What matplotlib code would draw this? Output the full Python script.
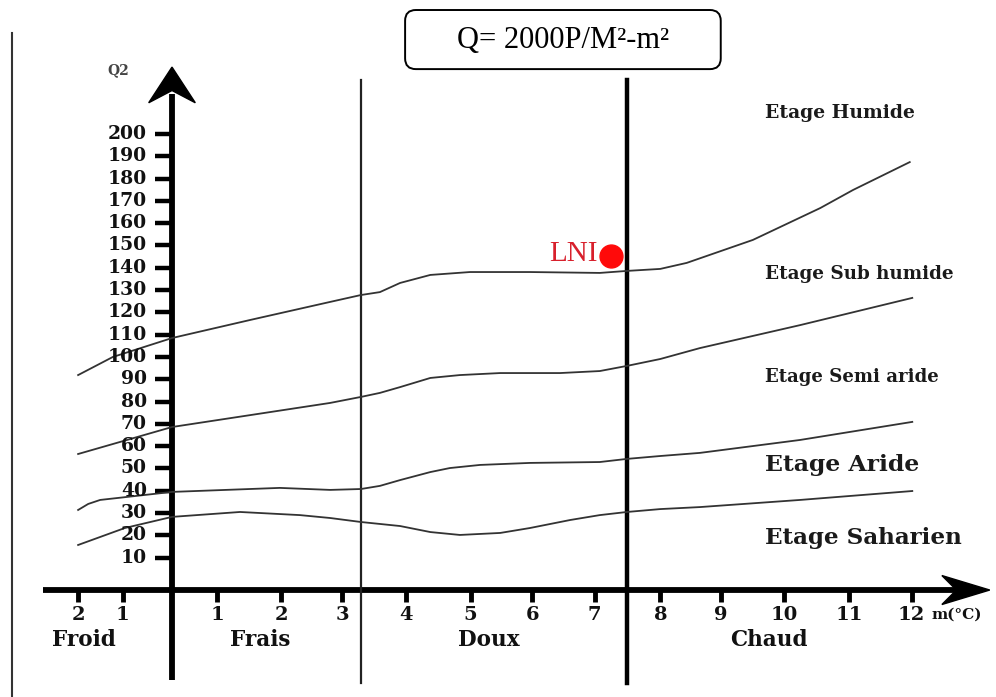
import numpy as np
import matplotlib
matplotlib.use("Agg")
import matplotlib.pyplot as plt
from matplotlib.patches import FancyBboxPatch, Polygon

# m (°C) positions of the tick marks as drawn (left ones are negative), and their labels
x_tick_pos = [-1.49, -0.78, 0.72, 1.73, 2.70, 3.72, 4.74, 5.72, 6.71, 7.75, 8.71, 9.72, 10.75, 11.74]
x_tick_lab = ["2", "1", "1", "2", "3", "4", "5", "6", "7", "8", "9", "10", "11", "12"]
y_ticks = list(range(10, 201, 10))

# boundaries between bioclimatic stages
c1_x = [-1.49, -0.94, 0.0, 1.24, 2.51, 3.0, 3.30, 3.62, 4.10, 4.73, 5.68, 6.79, 7.22, 7.75,
        8.17, 9.22, 10.29, 10.81, 11.71]
c1_y = [91.9, 100.0, 108.5, 116.6, 124.7, 127.8, 129.1, 133.2, 136.8, 138.1, 138.1, 137.7, 138.6,
        139.5, 142.2, 152.5, 166.8, 174.9, 187.4]
c2_x = [-1.49, 0.0, 2.51, 3.0, 3.30, 3.62, 4.10, 4.57, 5.21, 6.16, 6.79, 7.22, 7.75, 8.38, 9.97, 11.75]
c2_y = [56.5, 68.6, 79.4, 82.1, 83.9, 86.5, 90.6, 91.9, 92.8, 92.8, 93.7, 96.0, 99.1, 104.0, 114.3, 126.5]
c3_x = [-1.49, -1.33, -1.14, 0.0, 1.71, 2.51, 3.0, 3.30, 3.62, 4.10, 4.41, 4.89, 5.68, 6.79, 7.22,
        7.75, 8.38, 9.97, 11.75]
c3_y = [31.4, 34.1, 35.9, 39.5, 41.3, 40.4, 40.8, 42.2, 44.8, 48.4, 50.2, 51.6, 52.5, 52.9, 54.3,
        55.6, 57.0, 62.8, 70.9]
c4_x = [-1.49, -0.75, 0.0, 1.08, 2.03, 2.51, 3.0, 3.62, 4.10, 4.57, 5.21, 5.68, 6.32, 6.79, 7.22,
        7.75, 8.38, 9.97, 11.75]
c4_y = [15.7, 23.3, 28.3, 30.5, 29.1, 27.8, 26.0, 24.2, 21.5, 20.2, 21.1, 23.3, 26.9, 29.1, 30.5,
        31.8, 32.7, 35.9, 39.9]

stages = ["Etage Humide", "Etage Sub humide", "Etage Semi aride", "Etage Aride", "Etage Saharien"]
stage_y = [209.4, 137.2, 91.0, 51.6, 18.8]
stage_size = [13.5, 13.2, 13.1, 16.9, 16.6]
zones = ["Froid", "Frais", "Doux", "Chaud"]
zone_x = [-1.40, 1.40, 5.03, 9.48]
limits_x = [3.0, 7.22]   # Frais/Doux and Doux/Chaud separators

station = "LNI"
station_m, station_q2 = 6.97, 145.5

fig = plt.figure(figsize=(9.96, 6.97), dpi=100)
ax = fig.add_axes([0, 0, 1, 1])
ax.set_xlim(-2.730, 13.079)
ax.set_ylim(-52.47, 260.09)
ax.axis("off")

serif = "DejaVu Serif"
x_axis_y = -4.5

# left frame line
ax.plot([-2.54, -2.54], [245.3, -53], color="#333333", lw=1.5)

# Q2 axis with arrow
ax.plot([0, 0], [-44.8, 218], color="black", lw=4.2, solid_capstyle="butt")
ax.add_patch(Polygon([(0, 230), (0.37, 214), (0.0, 219.5), (-0.37, 214)],
                     closed=True, color="black"))
# m axis with arrow
ax.plot([-2.05, 12.5], [x_axis_y, x_axis_y], color="black", lw=4.2, solid_capstyle="butt")
ax.add_patch(Polygon([(12.98, x_axis_y), (12.22, x_axis_y + 6.5), (12.45, x_axis_y),
                      (12.22, x_axis_y - 6.5)], closed=True, color="black"))

# y ticks
ax.hlines(y_ticks, -0.27, 0, color="black", lw=3.2)
for v in y_ticks:
    ax.text(-0.40, v, str(v), ha="right", va="center", fontsize=13.5,
            fontweight="bold", family=serif, color="#111111")
ax.text(-0.86, 228.5, "Q2", ha="center", va="center", fontsize=10,
        fontweight="bold", family=serif, color="#444444")

# x ticks
ax.vlines(x_tick_pos, x_axis_y - 5.5, x_axis_y, color="black", lw=3.5)
for p, lab in zip(x_tick_pos, x_tick_lab):
    ax.text(p, -15.5, lab, ha="center", va="center", fontsize=14,
            fontweight="bold", family=serif, color="#111111")
ax.text(12.06, -15.5, "m(°C)", ha="left", va="center", fontsize=11,
        fontweight="bold", family=serif, color="#111111")
for z, zx in zip(zones, zone_x):
    ax.text(zx, -27.0, z, ha="center", va="center", fontsize=15.5,
            fontweight="bold", family=serif, color="#111111")

# separator lines
ax.plot([limits_x[0]] * 2, [224.2, -46.2], color="#222222", lw=1.6)
ax.plot([limits_x[1]] * 2, [224.2, -46.2], color="black", lw=3.2)

# stage boundaries
for cx, cy in [(c1_x, c1_y), (c2_x, c2_y), (c3_x, c3_y), (c4_x, c4_y)]:
    ax.plot(cx, cy, color="#333333", lw=1.3, solid_joinstyle="round")

for s, sy, fs in zip(stages, stage_y, stage_size):
    ax.text(9.41, sy, s, ha="left", va="center", fontsize=fs,
            fontweight="bold", family=serif, color="#1a1a1a")

# station
ax.plot([station_m], [station_q2], "o", color="#ff0a0a", markersize=16.5)
ax.text(station_m - 0.21, station_q2 + 0.8, station, ha="right", va="center",
        fontsize=21, family="Liberation Serif", color="#d8202c")

# formula box
ax.add_patch(FancyBboxPatch((3.70, 229.1), 5.01, 26.5,
                            boxstyle="round,pad=0,rounding_size=0.17",
                            mutation_aspect=63 / 2.23, fc="white", ec="black", lw=1.4))
ax.text(6.21, 242.0, "Q= 2000P/M²-m²", ha="center", va="center", fontsize=22,
        family="Liberation Serif", color="black")

fig.savefig("out.png", dpi=100)
